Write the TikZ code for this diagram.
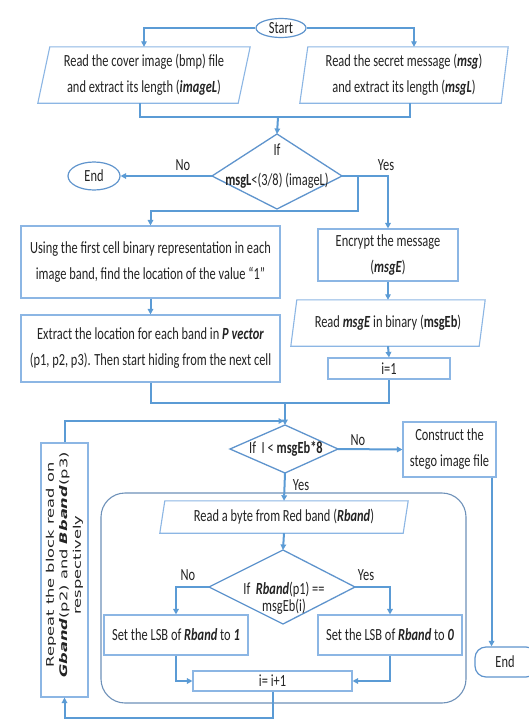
\documentclass[tikz,border=0pt]{standalone}
\usepackage{fontspec}
\setmainfont[FakeStretch=0.73]{Carlito}
\newfontfamily\dejav[FakeStretch=1.55]{DejaVu Sans}
\usetikzlibrary{arrows.meta,shapes.geometric}
\definecolor{connc}{RGB}{91,155,213}
\definecolor{boxc}{RGB}{140,182,228}
\definecolor{diac}{RGB}{95,148,205}
\definecolor{grpc}{RGB}{110,145,185}
\definecolor{txtc}{RGB}{35,35,35}
\tikzset{
  flow/.style={draw=connc, line width=2pt, -{Triangle[length=5.5pt,width=5.5pt]}},
  plain/.style={draw=connc, line width=2pt},
  tx/.style={font=\fontsize{17}{26}\selectfont, text=txtc, align=center, inner sep=0pt},
  box/.style={tx, draw=boxc, line width=1.1pt},
  para/.style={draw=boxc, line width=1.1pt},
  dia/.style={draw=diac, line width=1.3pt},
  term/.style={tx, draw=diac, line width=1.2pt, ellipse},
  grp/.style={draw=grpc, line width=1.1pt, rounded corners=24pt},
  lab/.style={tx}
}
\begin{document}
\begin{tikzpicture}[x=1pt,y=-1pt]
\useasboundingbox (0,0) rectangle (529,720);
\fill[white] (0,0) rectangle (529,720);

% group frame
\node[grp, minimum width=365, minimum height=210, inner sep=0pt] (loopbox) at (283.5,598) {};

% start
\node[term, minimum width=50, minimum height=19] (start) at (281,28) {Start};

% input parallelograms
\node[tx, minimum width=200, minimum height=56] (p1) at (144,75) {Read the cover image (bmp) file\\and extract its length (\textbf{\textit{imageL}})};
\draw[para] ([xshift=6pt]p1.north west) -- ([xshift=6pt]p1.north east) -- ([xshift=-6pt]p1.south east) -- ([xshift=-6pt]p1.south west) -- cycle;
\node[tx, minimum width=200, minimum height=56] (p2) at (404,75) {Read the secret message (\textbf{\textit{msg}})\\and extract its length (\textbf{\textit{msgL}})};
\draw[para] ([xshift=4pt]p2.north west) -- ([xshift=4pt]p2.north east) -- ([xshift=-3pt]p2.south east) -- ([xshift=-4pt]p2.south west) -- cycle;

\draw[flow] (start.west) -| (p1.north);
\draw[flow] (start.east) -| ([xshift=10pt]p2.north);

\coordinate (m1) at (278,117);
\draw[plain] ([xshift=-4pt]p1.south) |- (m1) -| ([xshift=6pt]p2.south);

% decision 1
\coordinate (d1t) at (277,134);
\coordinate (d1r) at (342,176);
\coordinate (d1b) at (277,209);
\coordinate (d1l) at (212,176);
\draw[dia] (d1t) -- (d1r) -- (d1b) -- (d1l) -- cycle;
\node[tx, font=\fontsize{17}{30}\selectfont] (d1txt) at (277,166) {If\\\textbf{msgL}<(3/8) (imageL)};
\draw[flow] (m1) -- (d1t);

\node[term, minimum width=52, minimum height=28] (end1) at (94,176) {End};
\draw[flow] (d1l) -- (end1.east);
\node[lab] (no1) at (183,165) {No};
\node[lab] (yes1) at (386,165) {Yes};

% right column
\node[box, minimum width=140, minimum height=52] (enc) at (388,255) {Encrypt the message\\(\textbf{\textit{msgE}})};
\draw[flow] (d1r) -| (enc.north);

\node[tx, minimum width=188, minimum height=46] (p3) at (388,323) {Read \textbf{\textit{msgE}} in binary (\textbf{msgEb})};
\draw[para] ([xshift=3pt]p3.north west) -- ([xshift=3pt]p3.north east) -- ([xshift=-3pt]p3.south east) -- ([xshift=-3pt]p3.south west) -- cycle;
\draw[flow] (enc.south) -- (p3.north);

\node[box, minimum width=122, minimum height=21] (i1) at (389,368.5) {i=1};
\draw[flow] (p3.south) -- (i1.north);

% left column
\node[box, minimum width=259, minimum height=72] (b1) at (150.5,262) {Using the first cell binary representation in each\\image band, find the location of the value “1”};
\coordinate (br1) at (358,176);
\coordinate (j1) at (358,211);
\draw[flow] (br1) -- (j1) -| (b1.north);

\node[box, minimum width=259, minimum height=67] (b2) at (150.5,348.5) {Extract the location for each band in \textbf{\textit{P vector}}\\(p1, p2, p3). Then start hiding from the next cell};
\draw[flow] (b1.south) -- (b2.north);

\coordinate (m2) at (285,403);
\draw[plain] (b2.south) |- (m2) -| (i1.south);

% decision 2
\coordinate (d2t) at (285,425);
\coordinate (d2r) at (338,449);
\coordinate (d2b) at (285,473);
\coordinate (d2l) at (230,449);
\draw[dia] (d2t) -- (d2r) -- (d2b) -- (d2l) -- cycle;
\node[tx] (d2txt) at (286,449) {If~~I < \textbf{msgEb*8}};
\draw[flow] (m2) -- (d2t);

\node[box, minimum width=93, minimum height=55] (con) at (449.5,449.5) {Construct the\\stego image file};
\draw[flow] (d2r) -- (con.west);
\node[lab] (no2) at (358,440) {No};

\node[tx, draw=diac, line width=1.2pt, rounded corners=11pt, minimum width=62, minimum height=30] (end2) at (506,662) {\hspace*{-2pt}End};
\draw[flow] ([xshift=-5pt]con.south east) -- ([xshift=-5pt]con.south east |- end2.north);

\node[lab] (yes2) at (301,485) {Yes};

% inner loop
\node[tx, minimum width=243, minimum height=32] (rb) at (284,517) {Read a byte from Red band (\textbf{\textit{Rband}})};
\draw[para] ([xshift=2.5pt]rb.north west) -- ([xshift=2.5pt]rb.north east) -- ([xshift=-2.5pt]rb.south east) -- ([xshift=-2.5pt]rb.south west) -- cycle;
\draw[flow] (d2b) -- (rb.north);

\coordinate (d3t) at (283,550);
\coordinate (d3r) at (355,587);
\coordinate (d3b) at (283,624);
\coordinate (d3l) at (209,587);
\draw[dia] (d3t) -- (d3r) -- (d3b) -- (d3l) -- cycle;
\node[tx, font=\fontsize{17}{17}\selectfont] (d3txt) at (284,598) {If~~\textbf{\textit{Rband}}(p1) ==\\msgEb(i)};
\draw[flow] (rb.south) -- (d3t);

\node[lab] (no3) at (188,575) {No};
\node[lab] (yes3) at (366,575) {Yes};

\node[box, minimum width=144, minimum height=40] (s1) at (176,635) {Set the LSB of \textbf{\textit{Rband}} to \textbf{\textit{1}}};
\node[box, minimum width=144, minimum height=40] (s2) at (390,635) {Set the LSB of \textbf{\textit{Rband}} to \textbf{\textit{0}}};
\draw[flow] (d3l) -| (s1.north);
\draw[flow] (d3r) -| (s2.north);

\node[box, minimum width=159, minimum height=20] (inc) at (272.5,681) {i= i+1};
\draw[flow] (s1.south) |- (inc.west);
\draw[flow] (s2.south) |- (inc.east);

% repeat box
\node[box, minimum width=47, minimum height=254] (rep) at (64.5,570) {};
\node[rotate=90, align=center, inner sep=0pt, text=txtc, font=\dejav\fontsize{10.5}{13.5}\selectfont] (reptxt) at (64.5,565) {Repeat the block read on\\\textbf{\textit{Gband}}(p2) and \textbf{\textit{Bband}}(p3)\\respectively};

\coordinate (lb) at (272.5,718);
\draw[flow] (inc.south) -- (lb) -| (rep.south);
\coordinate (j2) at (284,421);
\draw[flow] (rep.north) |- (j2);
\end{tikzpicture}
\end{document}
